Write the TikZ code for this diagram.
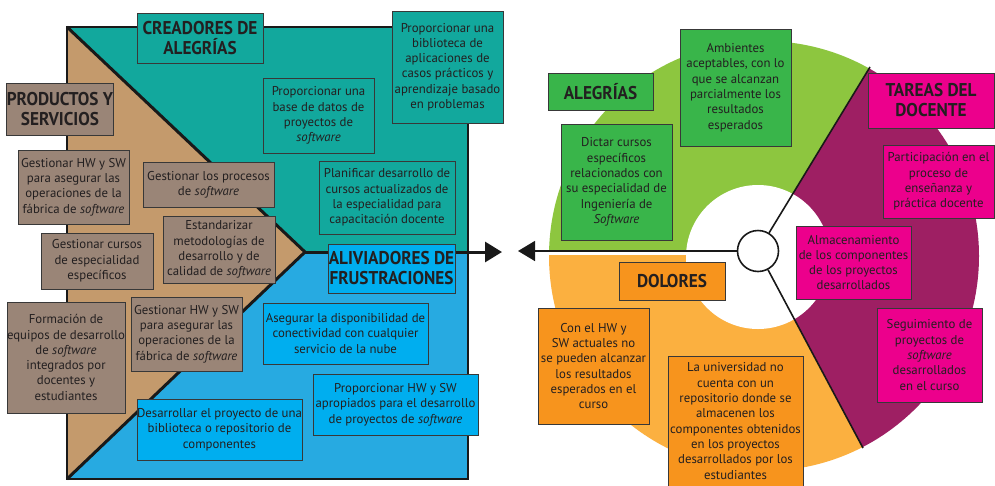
\documentclass[tikz,border=0pt]{standalone}
\usepackage{fontspec}
\setmainfont{PT Sans}
\newfontfamily\hfont[FakeStretch=0.93]{PT Sans}
\usetikzlibrary{arrows.meta}
\definecolor{tealbg}{HTML}{12A89D}
\definecolor{bluebg}{HTML}{27AAE1}
\definecolor{bluebox}{HTML}{00AEEF}
\definecolor{tanbg}{HTML}{C49A6C}
\definecolor{taupe}{HTML}{9A8577}
\definecolor{lgreen}{HTML}{8DC63F}
\definecolor{gbox}{HTML}{39B54A}
\definecolor{magbox}{HTML}{EC008C}
\definecolor{purplebg}{HTML}{9E1F63}
\definecolor{lorange}{HTML}{FBB040}
\definecolor{obox}{HTML}{F7941D}
\definecolor{txt}{HTML}{231F20}
\tikzset{
  box/.style={draw=black!78, line width=0.9pt, inner sep=0pt, align=center, text=txt,
    font=\fontsize{12.8}{15.3}\selectfont},
  head/.style={box, font=\hfont\bfseries\fontsize{18.5}{20}\selectfont},
  bigline/.style={line width=3pt, black!90},
  thinline/.style={line width=1.6pt, black!90},
  bigarrow/.style={-{Triangle[length=17pt,width=20pt]}},
}
\begin{document}
\begin{tikzpicture}[x=1pt,y=-1pt]
\useasboundingbox (0,0) rectangle (995,485);
\fill[white] (0,0) rectangle (995,485);
% ---------------- left canvas ----------------
\fill[tanbg] (67,27) -- (305,252) -- (67,479) -- cycle;
\fill[tealbg] (67,27) -- (468,27) -- (468,252) -- (305,252) -- cycle;
\fill[bluebg] (305,252) -- (468,252) -- (468,479) -- (67,479) -- cycle;
\draw[line width=2pt, black!90] (67,27) rectangle (468,479);
\coordinate (tl) at (67,27);
\coordinate (tip) at (305,252);
\coordinate (bl) at (67,479);
\coordinate (ra) at (502,252);
\draw[bigline, line join=miter] (tl) -- (tip) -- (bl);
\draw[bigline, bigarrow] (tip) -- (ra);
% ---------------- right canvas ----------------
\begin{scope}
\clip (758,251) -- (926,-25) -- (480,-25) -- (480,251) -- cycle;
\fill[lgreen] (764,256) circle (215pt);
\end{scope}
\begin{scope}
\clip (758,251) -- (480,251) -- (480,560) -- (915,546) -- cycle;
\fill[lorange] (764,256) circle (215pt);
\end{scope}
\begin{scope}
\clip (758,251) -- (926,-25) -- (1100,-25) -- (1100,560) -- (915,546) -- cycle;
\fill[purplebg] (764,256) circle (215pt);
\end{scope}
\fill[white] (758,257) circle (72pt);
\fill[white] (545,249.5) rectangle (740,254.5);
\node[draw=black!90, line width=1.6pt, fill=white, circle, minimum size=41pt, inner sep=0pt] (circ) at (758,251) {};
\coordinate (ur) at (870,67);
\coordinate (lr) at (863,448);
\coordinate (la) at (518,251);
\draw[thinline] (circ) -- (ur);
\draw[thinline] (circ) -- (lr);
\draw[thinline, bigarrow] (circ.west) -- (la);
% ---------------- left boxes ----------------
\node[head, fill=tealbg, minimum width=126pt, minimum height=50pt] (cre) at (200,38) {CREADORES DE\\ALEGRÍAS};
\node[box, fill=tealbg, minimum width=111pt, minimum height=112pt] (bib) at (447.5,67) {Proporcionar una\\biblioteca de\\aplicaciones de\\casos prácticos y\\aprendizaje basado\\en problemas};
\node[box, fill=tealbg, minimum width=111pt, minimum height=75pt] (bd) at (318.5,115.5) {Proporcionar una\\base de datos de\\proyectos de\\\textit{software}};
\node[box, fill=tealbg, minimum width=136pt, minimum height=73pt] (plan) at (387,197.5) {Planificar desarrollo de\\cursos actualizados de\\la especialidad para\\capacitación docente};
\node[head, fill=taupe, minimum width=106pt, minimum height=52pt] (prod) at (60,109) {PRODUCTOS Y\\SERVICIOS};
\node[box, fill=taupe, minimum width=111pt, minimum height=74pt] (g1) at (73.5,187) {Gestionar HW y SW\\para asegurar las\\operaciones de la\\fábrica de \textit{software}};
\node[box, fill=taupe, minimum width=131pt, minimum height=45pt] (gp) at (208.5,184.5) {Gestionar los procesos\\de \textit{software}};
\node[box, fill=taupe, minimum width=112pt, minimum height=67pt] (est) at (219,249.5) {Estandarizar\\metodologías de\\desarrollo y de\\calidad de \textit{software}};
\node[box, fill=taupe, minimum width=112pt, minimum height=56pt] (gc) at (97,261) {Gestionar cursos\\de especialidad\\específicos};
\node[box, fill=taupe, minimum width=118pt, minimum height=111pt] (form) at (66,357.5) {Formación de\\equipos de desarrollo\\de \textit{software}\\integrados por\\docentes y\\estudiantes};
\node[box, fill=taupe, minimum width=111pt, minimum height=74pt] (g2) at (186.5,334) {Gestionar HW y SW\\para asegurar las\\operaciones de la\\fábrica de \textit{software}};
\node[head, fill=bluebox, minimum width=127pt, minimum height=49pt] (ali) at (391.5,268.5) {ALIVIADORES DE\\FRUSTRACIONES};
\node[box, fill=bluebox, minimum width=165pt, minimum height=61pt] (ase) at (345.5,333.5) {Asegurar la disponibilidad de\\conectividad con cualquier\\servicio de la nube};
\node[box, fill=bluebox, minimum width=165pt, minimum height=61pt] (phw) at (395.5,404.5) {Proporcionar HW y SW\\apropiados para el desarrollo\\de proyectos de \textit{software}};
\node[box, fill=bluebox, minimum width=165pt, minimum height=61pt] (des) at (219.5,429.5) {Desarrollar el proyecto de una\\biblioteca o repositorio de\\componentes};
% ---------------- right boxes ----------------
\node[head, fill=gbox, minimum width=105pt, minimum height=37pt] (ale) at (600.5,91.5) {ALEGRÍAS};
\node[box, fill=gbox, minimum width=111pt, minimum height=117pt] (amb) at (735.5,87.5) {Ambientes\\aceptables, con lo\\que se alcanzan\\parcialmente los\\resultados\\esperados};
\node[box, fill=gbox, minimum width=111pt, minimum height=116pt] (dic) at (616.5,182) {Dictar cursos\\específicos\\relacionados con\\su especialidad de\\Ingeniería de\\\textit{Software}};
\node[head, fill=magbox, minimum width=126pt, minimum height=55pt] (tar) at (931,100.5) {TAREAS DEL\\DOCENTE};
\node[box, fill=magbox, minimum width=111pt, minimum height=73pt] (par) at (938.5,181.5) {Participación en el\\proceso de\\enseñanza y\\práctica docente};
\node[box, fill=magbox, minimum width=115pt, minimum height=73pt] (alm) at (853.5,262.5) {Almacenamiento\\de los componentes\\de los proyectos\\desarrollados};
\node[box, fill=magbox, minimum width=105pt, minimum height=94pt] (seg) at (929.5,355) {Seguimiento de\\proyectos de\\\textit{software}\\desarrollados\\en el curso};
\node[head, fill=obox, minimum width=106pt, minimum height=38pt] (dol) at (672,281) {DOLORES};
\node[box, fill=obox, minimum width=111pt, minimum height=116pt] (con) at (593.5,366) {Con el HW y\\SW actuales no\\se pueden alcanzar\\los resultados\\esperados en el\\curso};
\node[box, fill=obox, minimum width=135pt, minimum height=130pt] (uni) at (735.5,421) {La universidad no\\cuenta con un\\repositorio donde se\\almacenen los\\componentes obtenidos\\en los proyectos\\desarrollados por los\\estudiantes};
\end{tikzpicture}
\end{document}
